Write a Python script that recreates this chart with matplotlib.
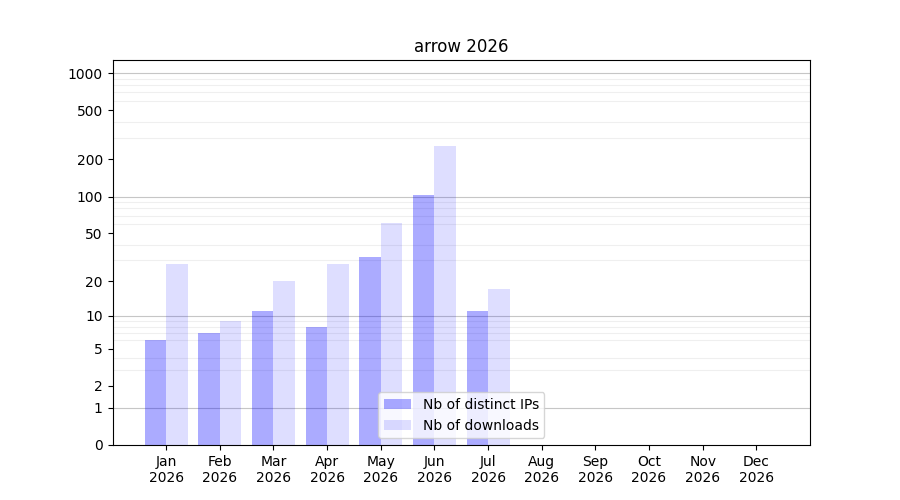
import numpy as np
import matplotlib
matplotlib.use("Agg")
import matplotlib.pyplot as plt
from matplotlib.ticker import FixedLocator

# data
months = ["Jan", "Feb", "Mar", "Apr", "May", "Jun", "Jul", "Aug", "Sep", "Oct", "Nov", "Dec"]
year = "2026"
distinct_ips = [6, 7, 11, 8, 32, 103, 11, 0, 0, 0, 0, 0]
downloads = [28, 9, 20, 28, 61, 255, 17, 0, 0, 0, 0, 0]
ytick_vals = [0, 1, 2, 5, 10, 20, 50, 100, 200, 500, 1000]


def fwd(v):
    return np.log10(1 + np.clip(v, 0, None))


def inv(v):
    return 10 ** v - 1


fig, ax = plt.subplots(figsize=(9, 5), dpi=100)
x = np.arange(len(months))
w = 0.4
ax.bar(x - w / 2, distinct_ips, width=w, color="blue", alpha=0.33, label="Nb of distinct IPs")
ax.bar(x + w / 2, downloads, width=w, color="blue", alpha=0.13, label="Nb of downloads")

ax.set_yscale("function", functions=(fwd, inv))
ax.set_ylim(0, max(downloads) * 5)
ax.set_xlim(-1, len(months))

ax.set_yticks(ytick_vals)
ax.set_yticklabels([str(v) for v in ytick_vals])
minor = [m * d for d in (1, 10, 100, 1000) for m in range(2, 10)]
ax.yaxis.set_minor_locator(FixedLocator(minor))
ax.tick_params(axis="y", which="minor", length=0)
ax.grid(axis="y", which="minor", color="#efefef", linewidth=0.8)
for d in (1, 10, 100, 1000):
    ax.axhline(d, color="#c6c6c6", linewidth=0.8, zorder=0.5)
ax.set_axisbelow(True)

ax.set_xticks(x)
ax.set_xticklabels([m + "\n" + year for m in months])
ax.set_title("arrow 2026")
ax.legend(loc="lower center")

fig.savefig("out.png", dpi=100)
